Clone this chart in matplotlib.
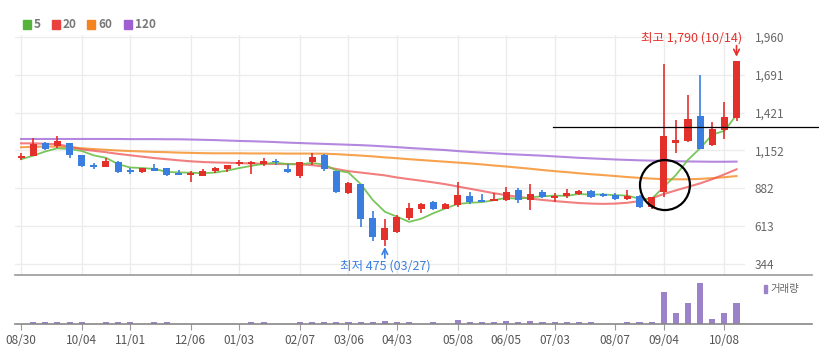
import matplotlib
matplotlib.use("Agg")
import matplotlib.pyplot as plt
from matplotlib.patches import Rectangle, Ellipse
from matplotlib.lines import Line2D

plt.rcParams['font.family'] = ['Noto Sans CJK KR', 'DejaVu Sans']

# weekly candles: open, high, low, close
opens = [1100, 1113, 1203, 1184, 1203, 1120, 1051, 1035, 1073, 1011,
         997, 1025, 1027, 984, 978, 974, 1003, 1020, 1056, 1056,
         1056, 1077, 1018, 970, 1070, 1119, 1003, 849, 914, 674,
         515, 574, 669, 736, 788, 736, 766, 831, 795, 792,
         800, 871, 800, 859, 817, 826, 842, 866, 840, 835,
         807, 830, 752, 859, 1203, 1220, 1400, 1191, 1298, 1381]
highs = [1134, 1241, 1216, 1255, 1206, 1123, 1063, 1101, 1075, 1025,
         1027, 1056, 1030, 1013, 1006, 1019, 1037, 1051, 1084, 1080,
         1097, 1090, 1056, 1073, 1132, 1127, 1005, 931, 916, 721,
         662, 693, 776, 780, 790, 776, 930, 855, 842, 852,
         894, 883, 911, 870, 847, 878, 873, 873, 852, 849,
         871, 832, 823, 1768, 1369, 1547, 1690, 1357, 1500, 1790]
lows = [1084, 1110, 1152, 1168, 1097, 1037, 1020, 1033, 995, 987,
        995, 1003, 974, 975, 930, 967, 991, 997, 1042, 987,
        1042, 1047, 995, 955, 1047, 1006, 849, 839, 610, 508,
        475, 562, 657, 709, 729, 734, 752, 771, 785, 790,
        792, 776, 728, 815, 788, 817, 835, 816, 821, 800,
        800, 741, 733, 823, 1137, 1215, 1160, 1184, 1232, 1362]
closes = [1108, 1198, 1163, 1222, 1120, 1044, 1037, 1077, 997, 999,
          1025, 1005, 976, 977, 985, 1008, 1027, 1049, 1065, 1068,
          1077, 1067, 997, 1068, 1108, 1020, 856, 924, 662, 539,
          598, 681, 741, 771, 736, 773, 833, 788, 788, 807,
          859, 800, 842, 823, 831, 847, 866, 823, 828, 807,
          830, 752, 819, 1255, 1227, 1376, 1163, 1303, 1393, 1790]
volume = [20, 180, 180, 180, 180, 180, 20, 180, 180, 180,
          20, 180, 180, 20, 20, 20, 20, 20, 20, 180,
          180, 20, 20, 180, 180, 180, 180, 180, 180, 180,
          300, 180, 180, 20, 180, 20, 420, 180, 180, 180,
          320, 180, 320, 180, 180, 180, 180, 180, 20, 20,
          180, 180, 180, 3230, 1070, 2070, 4130, 470, 1070, 2070]

ma5 = [1090, 1115, 1145, 1168, 1162, 1149, 1117, 1100, 1055, 1031,
       1027, 1021, 1000, 996, 994, 990, 995, 1009, 1027, 1043,
       1057, 1065, 1055, 1055, 1063, 1052, 1010, 995, 914, 800,
       716, 681, 644, 666, 705, 740, 771, 780, 784, 798,
       815, 808, 819, 826, 831, 829, 842, 838, 839, 834,
       831, 808, 807, 893, 977, 1086, 1168, 1265, 1292, 1405]
ma20 = [1203, 1203, 1200, 1196, 1180, 1160, 1150, 1140, 1128, 1118,
        1108, 1098, 1090, 1082, 1075, 1070, 1067, 1065, 1062, 1060,
        1057, 1056, 1055, 1054, 1048, 1037, 1020, 1005, 995, 985,
        975, 960, 948, 937, 925, 912, 896, 880, 864, 848,
        834, 822, 810, 800, 792, 785, 778, 774, 772, 774,
        780, 792, 812, 842, 868, 893, 918, 948, 982, 1018]
ma60 = [1175, 1178, 1180, 1180, 1175, 1168, 1162, 1157, 1152, 1148,
        1145, 1142, 1140, 1137, 1135, 1133, 1132, 1132, 1132, 1131,
        1131, 1131, 1130, 1130, 1130, 1129, 1126, 1121, 1116, 1110,
        1103, 1097, 1090, 1084, 1078, 1072, 1066, 1060, 1053, 1045,
        1038, 1030, 1022, 1013, 1005, 998, 990, 983, 977, 970,
        963, 957, 952, 948, 947, 947, 950, 955, 962, 970]
ma120 = [1234, 1234, 1234, 1234, 1234, 1234, 1234, 1234, 1234, 1233,
         1233, 1233, 1232, 1232, 1230, 1228, 1226, 1223, 1220, 1218,
         1215, 1212, 1208, 1205, 1202, 1199, 1196, 1193, 1190, 1186,
         1181, 1176, 1170, 1165, 1160, 1155, 1148, 1142, 1137, 1132,
         1127, 1123, 1119, 1115, 1110, 1105, 1100, 1096, 1092, 1088,
         1085, 1082, 1080, 1078, 1076, 1074, 1073, 1072, 1072, 1073]

date_pos = [0, 5, 9, 14, 18, 23, 27, 31, 36, 40, 44, 49, 53, 58]
date_labels = ['08/30', '10/04', '11/01', '12/06', '01/03', '02/07', '03/06',
               '04/03', '05/08', '06/05', '07/03', '08/07', '09/04', '10/08']
price_ticks = [344, 613, 882, 1152, 1421, 1691, 1960]

hi_idx, hi_val, hi_text = 59, 1790, '최고 1,790 (10/14)'
lo_idx, lo_val, lo_text = 30, 475, '최저 475 (03/27)'
mark_level = 1317

RED = '#e3302b'
BLUE = '#3a7fe0'
W, H = 819, 357

fig = plt.figure(figsize=(W / 100, H / 100), dpi=100)
ax = fig.add_axes([15 / W, 1 - 275 / H, 730 / W, 240 / H])
axv = fig.add_axes([15 / W, 1 - 324 / H, 730 / W, 49 / H], sharex=ax)

n = len(closes)
x = list(range(n))
colors = [RED if c >= o else BLUE for o, c in zip(opens, closes)]

# moving averages
ax.plot(x, ma120, color='#a36ad8', lw=1.5, alpha=0.8, zorder=2)
ax.plot(x, ma60, color='#f58b22', lw=1.5, alpha=0.8, zorder=2)
ax.plot(x, ma20, color='#ee5454', lw=1.5, alpha=0.75, zorder=2)
ax.plot(x, ma5, color='#6cc04a', lw=1.3, alpha=0.9, zorder=2)

# candles
ax.vlines(x, lows, highs, colors=colors, lw=1.2, zorder=3)
bottoms = [min(o, c) for o, c in zip(opens, closes)]
heights = [max(abs(c - o), 12) for o, c in zip(opens, closes)]
ax.bar(x, heights, bottom=bottoms, width=0.58, color=colors, zorder=4)

ax.set_xlim(-0.5, 59.7)
ax.set_ylim(265.7, 1974.2)
ax.set_yticks(price_ticks)
ax.set_yticklabels([f'{v:,}' for v in price_ticks])
ax.yaxis.tick_right()
ax.tick_params(axis='y', length=0, pad=7, labelsize=8.5, labelcolor='#666666')
ax.set_xticks(date_pos)
ax.tick_params(axis='x', length=0, labelbottom=False)
ax.grid(True, color='#ececec', lw=1)
ax.set_axisbelow(True)
for s in ax.spines.values():
    s.set_visible(False)

# highest / lowest markers
ax.annotate(hi_text, xy=(hi_idx, hi_val), xytext=(4, 16.5), textcoords='offset points',
            ha='right', va='center', color=RED, fontsize=9)
ax.annotate('', xy=(hi_idx, hi_val), xytext=(0, 11), textcoords='offset points',
            arrowprops=dict(arrowstyle='->', color=RED, lw=1.2, shrinkA=0, shrinkB=3))
ax.annotate(lo_text, xy=(lo_idx, lo_val), xytext=(0, -14.5), textcoords='offset points',
            ha='center', va='center', color=BLUE, fontsize=9)
ax.annotate('', xy=(lo_idx, lo_val), xytext=(0, -9), textcoords='offset points',
            arrowprops=dict(arrowstyle='->', color=BLUE, lw=1.2, shrinkA=0, shrinkB=1))

# hand-drawn style marks
ax.plot([43.9, 65.8], [mark_level, mark_level], color='black', lw=0.9, clip_on=False, zorder=6)
ax.add_patch(Ellipse((53.1, 906), width=4.12, height=356, fill=False,
                     edgecolor='black', lw=1.6, zorder=6))

# volume
axv.bar(x, volume, width=0.5, color='#9b82c9')
axv.set_ylim(0, 4900)
axv.set_yticks([])
axv.set_xticks(date_pos)
axv.set_xticklabels(date_labels)
axv.tick_params(axis='x', length=4, color='#999999', pad=3, labelsize=8.5, labelcolor='#555555')
for s in axv.spines.values():
    s.set_visible(False)

# panel lines
fig.add_artist(Line2D([15 / W, 812 / W], [1 - 275 / H] * 2, color='#999999', lw=1.2))
fig.add_artist(Line2D([15 / W, 812 / W], [1 - 324 / H] * 2, color='#888888', lw=1.2))

# legend
legend_items = [('5', '#55b33b', 23), ('20', '#e8413e', 52), ('60', '#f5841f', 87), ('120', '#a05fd0', 124)]
for label, col, px in legend_items:
    fig.add_artist(Rectangle((px / W, 1 - 28.5 / H), 8 / W, 8 / H, color=col, transform=fig.transFigure))
    fig.text((px + 11) / W, 1 - 24.5 / H, label, color='#777777', fontsize=8.5,
             fontweight='bold', va='center', ha='left')

fig.add_artist(Rectangle((764 / W, 1 - 293 / H), 3 / W, 8 / H, color='#9b82c9', transform=fig.transFigure))
fig.text(770 / W, 1 - 289 / H, '거래량', color='#666666', fontsize=7.5, va='center', ha='left')

plt.savefig('out.png', dpi=100)
